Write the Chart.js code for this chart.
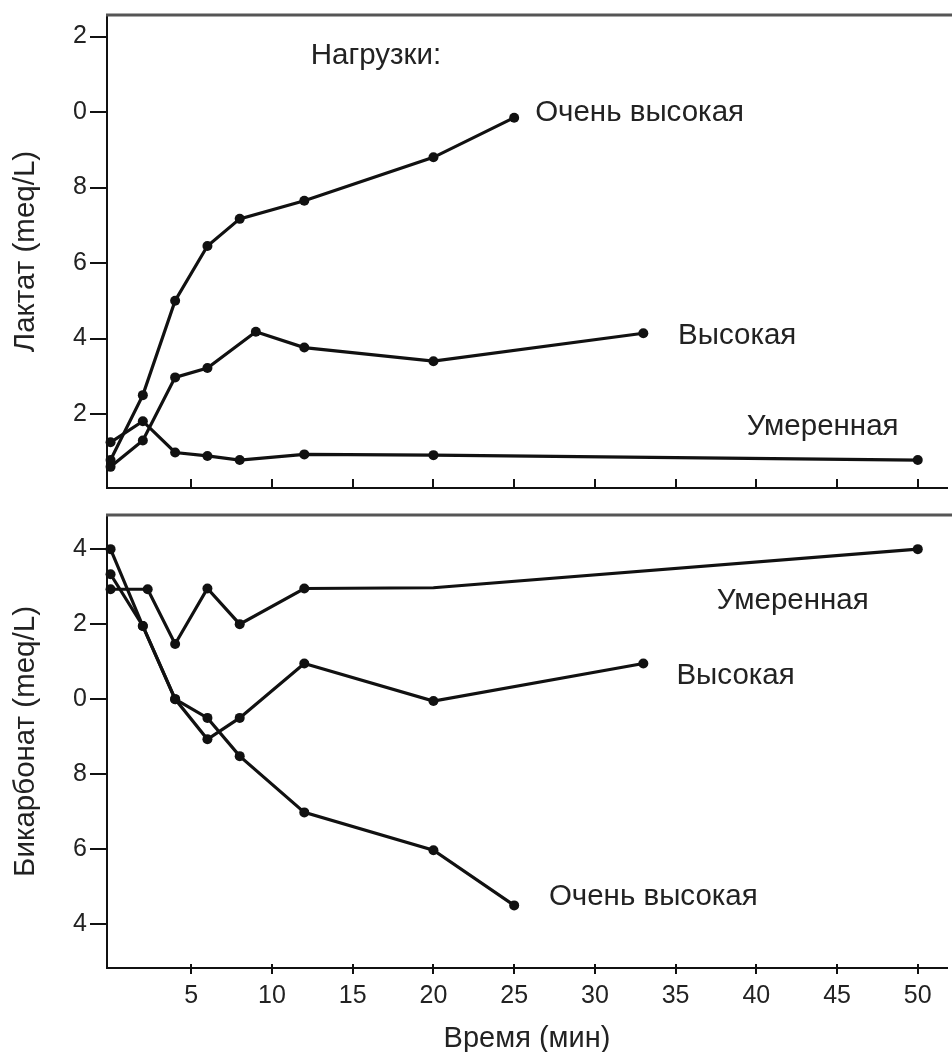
<!DOCTYPE html>
<html>
<head>
<meta charset="utf-8">
<script src="https://cdn.jsdelivr.net/npm/chart.js@4.4.1/dist/chart.umd.min.js"></script>
<style>
  html, body { margin: 0; padding: 0; background: #fff; }
  #wrap { position: relative; width: 952px; height: 1052px; overflow: hidden; }
  canvas { position: absolute; left: 0; }
  #chartLactate { top: 0; }
  #chartBicarb { top: 500px; }
</style>
</head>
<body>
<div id="wrap">
  <canvas id="chartLactate" width="952" height="500"></canvas>
  <canvas id="chartBicarb" width="952" height="552"></canvas>
</div>
<script>
// Лактат: время (мин) и значения
var lacVeryHighTime = [0, 2, 4, 6, 8, 12, 20, 25];
var lacVeryHigh     = [0.78, 2.5, 5.0, 6.45, 7.17, 7.65, 8.8, 9.85];
var lacHighTime     = [0, 2, 4, 6, 9, 12, 20, 33];
var lacHigh         = [0.6, 1.3, 2.97, 3.22, 4.18, 3.76, 3.4, 4.14];
var lacModTime      = [0, 2, 4, 6, 8, 12, 20, 50];
var lacMod          = [1.25, 1.81, 0.98, 0.89, 0.78, 0.93, 0.91, 0.78];

// Бикарбонат
var bicVeryHighTime = [0, 2, 4, 6, 8, 12, 20, 25];
var bicVeryHigh     = [24.0, 21.95, 20.0, 19.5, 18.48, 16.98, 15.97, 14.5];
var bicHighTime     = [0, 2, 4, 6, 8, 12, 20, 33];
var bicHigh         = [23.33, 21.95, 20.0, 18.93, 19.5, 20.95, 19.95, 20.95];
var bicModTime      = [0, 2.3, 4, 6, 8, 12, 20, 50];
var bicMod          = [22.93, 22.93, 21.47, 22.95, 22.0, 22.95, 22.97, 24.0];

var timeTicks = [5, 10, 15, 20, 25, 30, 35, 40, 45, 50];
var lacTicks = [2, 4, 6, 8, 10, 12];
var bicTicks = [14, 16, 18, 20, 22, 24];
// on the figure only the last digit of each y tick is printed
var lacTickLabels = ['2', '4', '6', '8', '0', '2'];
var bicTickLabels = ['4', '6', '8', '0', '2', '4'];

var FONT = '"Liberation Sans", Arial, Helvetica, sans-serif';
var INK = '#111';
var TEXT = '#222';

function pts(xs, ys) {
  return xs.map(function (x, i) { return { x: x, y: ys[i] }; });
}

function series(label, xs, ys, radius) {
  return {
    label: label,
    data: pts(xs, ys),
    borderColor: INK,
    borderWidth: 3.2,
    backgroundColor: INK,
    pointBackgroundColor: INK,
    pointBorderWidth: 0,
    pointRadius: radius || 5,
    pointHoverRadius: radius || 5,
    tension: 0,
    clip: false
  };
}

// frame line on top, small x tick marks and the series names
var panelDecor = {
  id: 'panelDecor',
  afterDraw: function (chart, args, opts) {
    var ctx = chart.ctx, area = chart.chartArea;
    var xs = chart.scales.x, ys = chart.scales.y;
    ctx.save();
    ctx.strokeStyle = '#555';
    ctx.lineWidth = 3;
    ctx.beginPath();
    ctx.moveTo(area.left - 1, area.top);
    ctx.lineTo(chart.width, area.top);
    ctx.stroke();

    ctx.strokeStyle = INK;
    ctx.lineWidth = 2;
    xs.ticks.forEach(function (t) {
      var px = Math.round(xs.getPixelForValue(t.value));
      ctx.beginPath();
      ctx.moveTo(px, area.bottom - opts.tickUp);
      ctx.lineTo(px, area.bottom + opts.tickDown);
      ctx.stroke();
    });

    ctx.fillStyle = TEXT;
    ctx.font = '29.5px ' + FONT;
    ctx.textAlign = 'left';
    ctx.textBaseline = 'middle';
    opts.labels.forEach(function (l) {
      ctx.fillText(l.text, xs.getPixelForValue(l.x), ys.getPixelForValue(l.y));
    });
    ctx.restore();
  }
};

function makePanel(id, p) {
  return new Chart(document.getElementById(id), {
    type: 'line',
    data: { datasets: p.datasets },
    options: {
      responsive: false,
      animation: false,
      devicePixelRatio: 1,
      layout: { padding: { top: 15, left: 0, right: 0, bottom: 0 } },
      plugins: {
        legend: { display: false },
        tooltip: { enabled: false },
        panelDecor: { tickUp: p.tickUp, tickDown: p.tickDown, labels: p.labels }
      },
      scales: {
        x: {
          type: 'linear',
          min: -0.22,
          max: 51.81,
          afterBuildTicks: function (s) { s.ticks = timeTicks.map(function (v) { return { value: v }; }); },
          afterFit: function (s) {
            s.height = p.xHeight;
            s.paddingLeft = 0;
            s.paddingRight = 0;
          },
          ticks: { display: p.xLabels, padding: 13, color: TEXT, font: { size: 25, family: FONT } },
          grid: { display: false, drawTicks: false },
          border: { display: true, color: INK, width: 2 },
          title: {
            display: p.xLabels,
            text: 'Время (мин)',
            color: TEXT,
            font: { size: 29, family: FONT, lineHeight: 1 },
            padding: { top: 0, bottom: -1 }
          }
        },
        y: {
          type: 'linear',
          min: p.yMin,
          max: p.yMax,
          afterBuildTicks: function (s) { s.ticks = p.yTicks.map(function (v) { return { value: v }; }); },
          afterFit: function (s) {
            s.width = 107;
            s.paddingTop = 0;
            s.paddingBottom = 0;
          },
          ticks: {
            padding: 3,
            color: TEXT,
            font: { size: 25, family: FONT },
            callback: function (v) { return p.yTickLabels[p.yTicks.indexOf(v)]; }
          },
          grid: { drawOnChartArea: false, drawTicks: true, tickLength: 17, color: INK, lineWidth: 2 },
          border: { display: true, color: INK, width: 2 },
          title: {
            display: true,
            text: p.yTitle,
            color: TEXT,
            font: { size: 29.5, family: FONT, lineHeight: 1 },
            padding: { top: 11, bottom: 0 }
          }
        }
      }
    },
    plugins: [panelDecor]
  });
}

makePanel('chartLactate', {
  datasets: [
    series('Очень высокая', lacVeryHighTime, lacVeryHigh),
    series('Высокая', lacHighTime, lacHigh),
    series('Умеренная', lacModTime, lacMod)
  ],
  yMin: 0.04, yMax: 12.57,
  yTicks: lacTicks, yTickLabels: lacTickLabels,
  yTitle: 'Лактат (meq/L)',
  xHeight: 12, xLabels: false,
  tickUp: 9, tickDown: 0,
  labels: [
    { text: 'Нагрузки:', x: 12.4, y: 11.49 },
    { text: 'Очень высокая', x: 26.3, y: 9.99 },
    { text: 'Высокая', x: 35.15, y: 4.07 },
    { text: 'Умеренная', x: 39.4, y: 1.66 }
  ]
});

makePanel('chartBicarb', {
  datasets: [
    series('Очень высокая', bicVeryHighTime, bicVeryHigh),
    series('Высокая', bicHighTime, bicHigh),
    series('Умеренная', bicModTime, bicMod,
      function (c) { return bicModTime[c.dataIndex] === 20 ? 0 : 5; })
  ],
  yMin: 12.83, yMax: 24.91,
  yTicks: bicTicks, yTickLabels: bicTickLabels,
  yTitle: 'Бикарбонат (meq/L)',
  xHeight: 84, xLabels: true,
  tickUp: 4, tickDown: 6,
  labels: [
    { text: 'Умеренная', x: 37.55, y: 22.62 },
    { text: 'Высокая', x: 35.05, y: 20.63 },
    { text: 'Очень высокая', x: 27.15, y: 14.73 }
  ]
});
</script>
</body>
</html>
